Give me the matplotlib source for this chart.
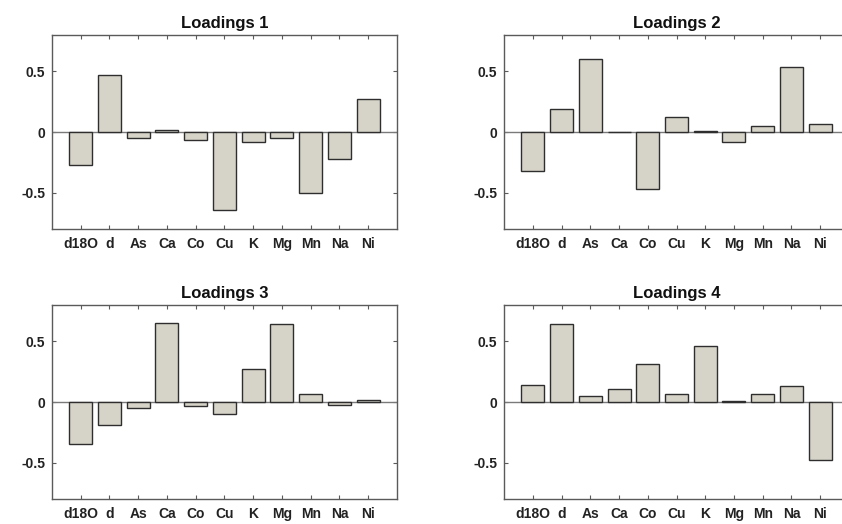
import matplotlib
matplotlib.use("Agg")
import matplotlib.pyplot as plt
import numpy as np

plt.rcParams["font.family"] = ["Liberation Sans", "DejaVu Sans"]

variables = ["d18O", "d", "As", "Ca", "Co", "Cu", "K", "Mg", "Mn", "Na", "Ni"]

loadings_1 = [-0.27, 0.47, -0.05, 0.02, -0.07, -0.64, -0.08, -0.05, -0.50, -0.22, 0.27]
loadings_2 = [-0.32, 0.19, 0.60, 0.0, -0.47, 0.12, 0.01, -0.08, 0.05, 0.54, 0.07]
loadings_3 = [-0.345, -0.19, -0.05, 0.655, -0.03, -0.10, 0.27, 0.64, 0.07, -0.025, 0.02]
loadings_4 = [0.14, 0.64, 0.05, 0.11, 0.31, 0.07, 0.46, 0.01, 0.07, 0.13, -0.48]

titles = ["Loadings 1", "Loadings 2", "Loadings 3", "Loadings 4"]
series = [loadings_1, loadings_2, loadings_3, loadings_4]

W, H = 842, 524
fig = plt.figure(figsize=(W / 100, H / 100), dpi=100)

# axes boxes in pixels: (left, top, right, bottom)
boxes = [
    (52, 35, 397, 229),
    (504, 35, 849, 229),
    (52, 305, 397, 499),
    (504, 305, 849, 499),
]

x = np.arange(1, len(variables) + 1)
bar_face = "#d6d3c9"
bar_edge = "#2e2e2e"
spine_col = "#5a5a5a"

for (l, t, r, b), vals, title in zip(boxes, series, titles):
    ax = fig.add_axes([l / W, 1 - b / H, (r - l) / W, (b - t) / H])
    ax.bar(x, vals, width=0.8, color=bar_face, edgecolor=bar_edge, linewidth=1.0, zorder=3)
    ax.axhline(0, color="#7a7a7a", linewidth=1.0, zorder=2)
    ax.set_xlim(0, 12)
    ax.set_ylim(-0.8, 0.8)
    ax.set_xticks(x)
    ax.set_xticklabels(variables, fontsize=10, fontweight="bold", color="#222222")
    ax.set_yticks([-0.5, 0, 0.5])
    ax.set_yticklabels(["-0.5", "0", "0.5"], fontsize=10, fontweight="bold", color="#222222")
    ax.tick_params(direction="in", top=True, right=True, length=3, width=0.8,
                   color=spine_col)
    ax.tick_params(axis="x", pad=6)
    ax.tick_params(axis="y", pad=5)
    for s in ax.spines.values():
        s.set_color(spine_col)
        s.set_linewidth(1.0)
    ax.set_title(title, fontsize=12, fontweight="bold", color="#111111", pad=5)

fig.savefig("out.png", dpi=100)
